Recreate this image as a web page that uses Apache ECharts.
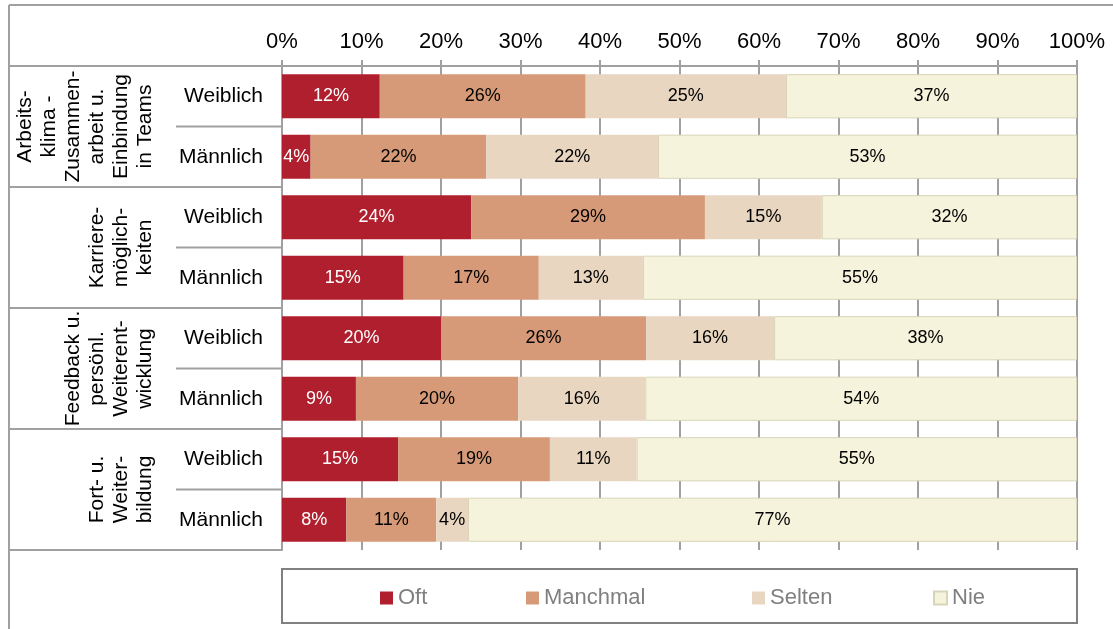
<!DOCTYPE html>
<html><head><meta charset="utf-8">
<script src="https://cdn.jsdelivr.net/npm/echarts@6/dist/echarts.min.js"></script>
<style>html,body{margin:0;padding:0;background:#fff}#c{width:1113px;height:629px}</style>
</head><body><div id="c"></div>
<script>
const groups = ['Arbeits-\nklima -\nZusammen-\narbeit u.\nEinbindung\nin Teams', 'Karriere-\nmöglich-\nkeiten', 'Feedback u.\npersönl.\nWeiterent-\nwicklung', 'Fort- u.\nWeiter-\nbildung'];
const categories = ['Weiblich', 'Männlich', 'Weiblich', 'Männlich', 'Weiblich', 'Männlich', 'Weiblich', 'Männlich'];
const seriesNames = ['Oft', 'Manchmal', 'Selten', 'Nie'];
const oft      = [12.3, 3.6, 23.8, 15.3, 20.0, 9.3, 14.6, 8.1];
const manchmal = [25.9, 22.1, 29.4, 17.0, 25.8, 20.4, 19.1, 11.3];
const selten   = [25.2, 21.6, 14.7, 13.1, 16.1, 16.0, 10.9, 4.0];
const nie      = [36.6, 52.7, 32.1, 54.6, 38.1, 54.3, 55.4, 76.6];
const xTicks = [0, 10, 20, 30, 40, 50, 60, 70, 80, 90, 100];

const FONT = '"Liberation Sans", Arial, sans-serif';
const GRID = '#a0a0a0';
const colors = ['#B01F2E', '#D79A78', '#E8D6C0', '#F5F3DB'];
const values = [oft, manchmal, selten, nie];

const chart = echarts.init(document.getElementById('c'), null, {renderer: 'canvas'});

const series = seriesNames.map((n, i) => ({
  name: n, type: 'bar', stack: 'total', barCategoryGap: '27%',
  data: values[i],
  itemStyle: {color: colors[i], borderColor: i === 3 ? '#d8d5b8' : colors[i], borderWidth: i === 3 ? 1 : 0},
  label: {show: true, position: 'inside', fontFamily: FONT, fontSize: 18,
    color: i === 0 ? '#fff' : '#000', formatter: p => Math.round(p.value) + '%'},
  emphasis: {disabled: true}
}));

const legendLeft = [380, 526, 752, 933];
const legends = seriesNames.map((n, i) => ({
  data: [n], left: legendLeft[i], top: 587, padding: 0,
  itemWidth: 13, itemHeight: 13, itemGap: 0,
  icon: 'rect',
  textStyle: {fontFamily: FONT, fontSize: 22, color: '#7f7f7f', padding: [0, 0, 0, 0]},
  selectedMode: false
}));

chart.setOption({
  animation: false,
  textStyle: {fontFamily: FONT},
  grid: {left: 282, right: 36, top: 66, bottom: 79},
  xAxis: {
    type: 'value', position: 'top', min: xTicks[0], max: xTicks[xTicks.length - 1], interval: 10,
    axisLine: {show: true, lineStyle: {color: GRID, width: 2}},
    axisTick: {show: true, length: 6, lineStyle: {color: GRID, width: 2}},
    splitLine: {show: true, lineStyle: {color: GRID, width: 2}},
    axisLabel: {fontFamily: FONT, fontSize: 22, color: '#000', margin: 13, formatter: '{value}%'}
  },
  yAxis: {
    type: 'category', inverse: true, data: categories,
    axisLine: {show: true, lineStyle: {color: GRID, width: 2}},
    axisTick: {show: false},
    axisLabel: {fontFamily: FONT, fontSize: 21, color: '#000', margin: 19}
  },
  legend: legends,
  series: series
});

// decorations derived from the axes
const c0 = chart.convertToPixel({yAxisIndex: 0}, 0);
const c1 = chart.convertToPixel({yAxisIndex: 0}, 1);
const step = c1 - c0;
const x0 = chart.convertToPixel({xAxisIndex: 0}, 0);
const x100 = chart.convertToPixel({xAxisIndex: 0}, 100);
const topY = c0 - step / 2;
const L = 9;
const els = [];
const line = (x1, y1, x2, y2) => els.push({type: 'line', shape: {x1, y1, x2, y2}, style: {stroke: GRID, lineWidth: 2}, silent: true});
line(L, 5, 1113, 5);
line(L, 5, L, 629);
line(L, topY, x0, topY);
for (let g = 0; g < groups.length; g++) {
  const yEnd = topY + step * (2 * g + 2);
  const yMid = topY + step * (2 * g + 1);
  line(L, yEnd, x0, yEnd);
  line(176, yMid, x0, yMid);
  els.push({type: 'text', x: 157, y: yMid, rotation: Math.PI / 2, silent: true,
    style: {text: groups[g], fontFamily: FONT, fontSize: 21, lineHeight: 24, fill: '#000',
      textAlign: 'center', textVerticalAlign: 'bottom', align: 'center', verticalAlign: 'bottom'}});
}
els.push({type: 'rect', shape: {x: x0, y: 569, width: x100 - x0, height: 54}, style: {fill: 'none', stroke: '#808080', lineWidth: 2}, silent: true});
chart.setOption({graphic: {elements: els}});
</script>
</body></html>
